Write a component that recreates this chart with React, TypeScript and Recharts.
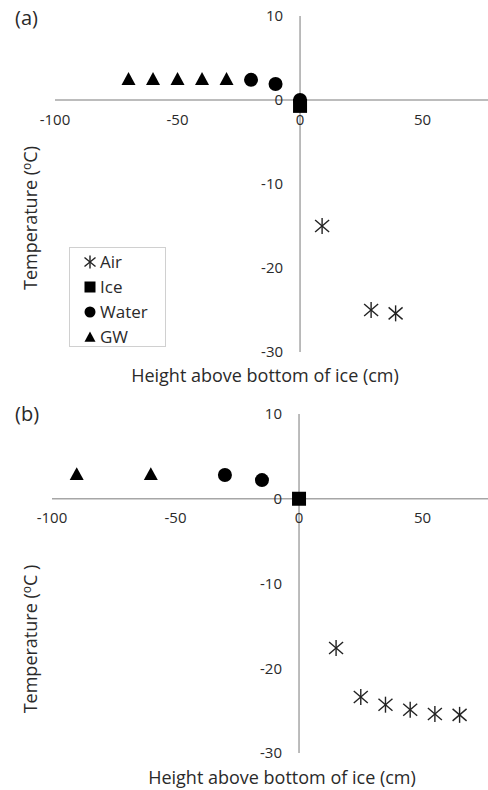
import { ReferenceDot, ReferenceLine, Scatter, ScatterChart, XAxis, YAxis } from "recharts";

type Pt = { x: number; y: number };

const xTicks = [-100, -50, 0, 50];
const yTicks = [10, 0, -10, -20, -30];
const seriesNames = ["Air", "Ice", "Water", "GW"];

// panel (a)
const airA: Pt[] = [
  { x: 9, y: -15 },
  { x: 29, y: -25 },
  { x: 39, y: -25.4 },
];
const iceA: Pt[] = [{ x: 0, y: -0.7 }];
const waterA: Pt[] = [
  { x: -20, y: 2.4 },
  { x: -10, y: 1.9 },
  { x: 0, y: 0 },
];
const gwA: Pt[] = [
  { x: -70, y: 2.5 },
  { x: -60, y: 2.5 },
  { x: -50, y: 2.5 },
  { x: -40, y: 2.5 },
  { x: -30, y: 2.5 },
];

// panel (b)
const airB: Pt[] = [
  { x: 15, y: -17.6 },
  { x: 25, y: -23.4 },
  { x: 35, y: -24.3 },
  { x: 45, y: -24.9 },
  { x: 55, y: -25.4 },
  { x: 65, y: -25.5 },
];
const iceB: Pt[] = [{ x: 0, y: 0 }];
const waterB: Pt[] = [
  { x: -30, y: 2.8 },
  { x: -15, y: 2.2 },
];
const gwB: Pt[] = [
  { x: -90, y: 2.9 },
  { x: -60, y: 2.9 },
];

const TEXT = "#2a2a2a";
const AXIS = "#a6a6a6";
const FONT = "'Open Sans', sans-serif";

function Asterisk(props: any) {
  const { cx, cy } = props;
  const s = props.s ?? 7;
  return (
    <g stroke="#222" strokeWidth={1.4}>
      <line x1={cx} y1={cy - s - 1} x2={cx} y2={cy + s + 1} />
      <line x1={cx - s} y1={cy - s + 1} x2={cx + s} y2={cy + s - 1} />
      <line x1={cx - s} y1={cy + s - 1} x2={cx + s} y2={cy - s + 1} />
    </g>
  );
}

function Square(props: any) {
  const { cx, cy } = props;
  const s = props.s ?? 7;
  return <rect x={cx - s} y={cy - s} width={2 * s} height={2 * s} fill="#000" />;
}

function Dot(props: any) {
  const { cx, cy } = props;
  return <circle cx={cx} cy={cy} r={props.s ?? 7} fill="#000" />;
}

function Tri(props: any) {
  const { cx, cy } = props;
  const s = props.s ?? 7;
  return (
    <polygon
      points={`${cx},${cy - s} ${cx + s},${cy + s * 0.85} ${cx - s},${cy + s * 0.85}`}
      fill="#000"
    />
  );
}

const shapes = [Asterisk, Square, Dot, Tri];

function Panel({
  air,
  ice,
  water,
  gw,
  height,
  left,
  bottom,
  xMax,
}: {
  air: Pt[];
  ice: Pt[];
  water: Pt[];
  gw: Pt[];
  height: number;
  left: number;
  bottom: number;
  xMax: number;
}) {
  const series = [air, ice, water, gw];
  return (
    <ScatterChart width={488} height={height} margin={{ top: 16, right: 0, bottom, left }}>
      <XAxis type="number" dataKey="x" domain={[-100, xMax]} hide />
      <YAxis type="number" dataKey="y" domain={[-30, 10]} hide />
      <ReferenceLine y={0} stroke={AXIS} strokeWidth={1.5} />
      <ReferenceLine x={0} stroke={AXIS} strokeWidth={1.5} />
      {xTicks.map((t) => (
        <ReferenceDot
          key={"x" + t}
          x={t}
          y={0}
          r={0}
          fill="none"
          stroke="none"
          label={{ value: String(t), position: "bottom", offset: 14, fill: TEXT, fontSize: 15 }}
        />
      ))}
      {yTicks.map((t) => (
        <ReferenceDot
          key={"y" + t}
          x={0}
          y={t}
          r={0}
          fill="none"
          stroke="none"
          label={{ value: String(t), position: "left", offset: 17, fill: TEXT, fontSize: 15 }}
        />
      ))}
      {series.map((d, i) => (
        <Scatter
          key={seriesNames[i]}
          name={seriesNames[i]}
          data={d}
          shape={shapes[i]}
          isAnimationActive={false}
        />
      ))}
    </ScatterChart>
  );
}

function YTitle({ cx, cy, closeSpace }: { cx: number; cy: number; closeSpace?: boolean }) {
  return (
    <div
      style={{
        position: "absolute",
        left: cx - 100,
        top: cy - 12,
        width: 200,
        height: 24,
        lineHeight: "24px",
        textAlign: "center",
        transform: "rotate(-90deg)",
        fontSize: 18,
        color: TEXT,
        whiteSpace: "nowrap",
      }}
    >
      Temperature (<span style={{ fontSize: 12, verticalAlign: 6 }}>o</span>C{closeSpace ? " )" : ")"}
    </div>
  );
}

function XTitle({ cx, cy }: { cx: number; cy: number }) {
  return (
    <div
      style={{
        position: "absolute",
        left: cx - 200,
        top: cy - 12,
        width: 400,
        height: 24,
        lineHeight: "24px",
        textAlign: "center",
        fontSize: 18,
        color: TEXT,
        whiteSpace: "nowrap",
      }}
    >
      Height above bottom of ice (cm)
    </div>
  );
}

function LegendBox() {
  return (
    <div
      style={{
        position: "absolute",
        left: 69,
        top: 247,
        width: 97,
        height: 100,
        border: "1px solid #d0d0d0",
        background: "#fff",
        boxSizing: "border-box",
        paddingTop: 1,
      }}
    >
      {seriesNames.map((n, i) => {
        const Shape = shapes[i];
        return (
          <div key={n} style={{ height: 25, display: "flex", alignItems: "center", paddingLeft: 13 }}>
            <svg width={14} height={14} style={{ marginRight: 3 }}>
              <Shape cx={7} cy={7} s={5.5} />
            </svg>
            <span style={{ fontSize: 17, color: TEXT }}>{n}</span>
          </div>
        );
      })}
    </div>
  );
}

export default function App() {
  return (
    <div
      style={{
        position: "absolute",
        left: 0,
        top: 0,
        width: 488,
        height: 790,
        background: "#fff",
        fontFamily: FONT,
        overflow: "hidden",
      }}
    >
      <div style={{ position: "absolute", left: 0, top: 0 }}>
        <Panel air={airA} ice={iceA} water={waterA} gw={gwA} height={390} left={55} bottom={38} xMax={76.7} />
      </div>
      <div style={{ position: "absolute", left: 0, top: 398 }}>
        <Panel air={airB} ice={iceB} water={waterB} gw={gwB} height={392} left={52} bottom={37} xMax={76.5} />
      </div>
      <div style={{ position: "absolute", left: 15, top: 4, fontSize: 20, color: TEXT }}>(a)</div>
      <div style={{ position: "absolute", left: 15, top: 400, fontSize: 20, color: TEXT }}>(b)</div>
      <YTitle cx={27} cy={218} />
      <YTitle cx={27} cy={639} closeSpace />
      <XTitle cx={265} cy={375} />
      <XTitle cx={282} cy={777} />
      <LegendBox />
    </div>
  );
}
